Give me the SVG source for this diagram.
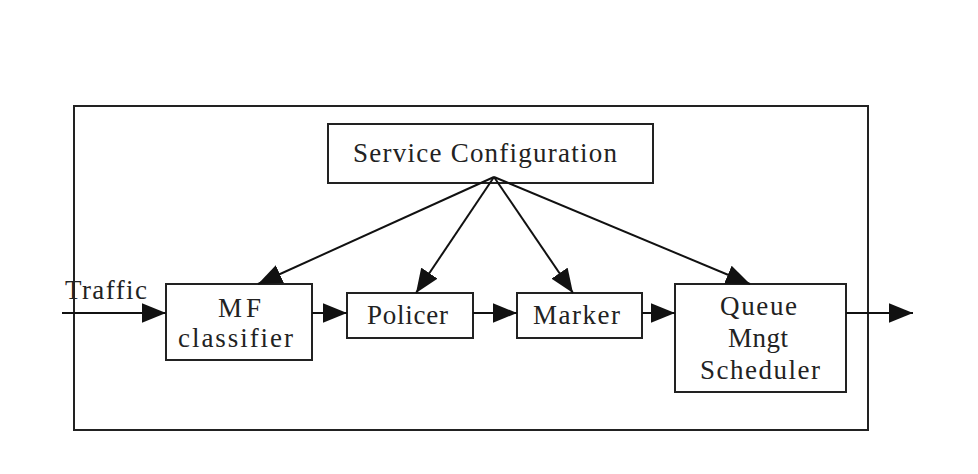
<svg xmlns="http://www.w3.org/2000/svg" width="978" height="474" viewBox="0 0 978 474">
<defs>
<marker id="ah" markerUnits="userSpaceOnUse" markerWidth="24" markerHeight="20" viewBox="0 0 22 18" refX="22" refY="9" orient="auto">
<path d="M0,0 L22,9 L0,18 Z" fill="#111"/>
</marker>
<style>
.box{fill:#fff;stroke:#222;stroke-width:2}
.t{font-family:"Liberation Serif","Times New Roman",serif;font-size:27px;fill:#222}
.c{stroke:#111;stroke-width:2;fill:none}
</style>
</defs>
<rect width="978" height="474" fill="#fff"/>
<g id="frame"><rect x="74" y="106" width="794" height="324" fill="none" stroke="#222" stroke-width="2"/></g>
<g id="service-config"><rect class="box" x="328" y="124" width="325" height="59"/><text class="t" x="353" y="162" textLength="264" lengthAdjust="spacing">Service Configuration</text></g>
<g id="traffic-label"><text class="t" x="65" y="299" textLength="82" lengthAdjust="spacing">Traffic</text></g>
<g id="mf-classifier"><rect class="box" x="166" y="284" width="146" height="76"/><text class="t" x="218" y="317" textLength="43" lengthAdjust="spacing">MF</text><text class="t" x="178" y="347" textLength="115" lengthAdjust="spacing">classifier</text></g>
<g id="policer"><rect class="box" x="347" y="293" width="126" height="45"/><text class="t" x="367" y="324" textLength="81" lengthAdjust="spacing">Policer</text></g>
<g id="marker"><rect class="box" x="517" y="293" width="125" height="45"/><text class="t" x="533" y="324" textLength="87" lengthAdjust="spacing">Marker</text></g>
<g id="queue-scheduler"><rect class="box" x="675" y="284" width="171" height="108"/><text class="t" x="720" y="315" textLength="77" lengthAdjust="spacing">Queue</text><text class="t" x="728" y="347" textLength="60" lengthAdjust="spacing">Mngt</text><text class="t" x="700" y="379" textLength="120" lengthAdjust="spacing">Scheduler</text></g>
<g id="connectors">
<line class="c" x1="62" y1="313" x2="166" y2="313" marker-end="url(#ah)"/>
<line class="c" x1="312" y1="313" x2="347" y2="313" marker-end="url(#ah)"/>
<line class="c" x1="473" y1="313" x2="517" y2="313" marker-end="url(#ah)"/>
<line class="c" x1="642" y1="313" x2="675" y2="313" marker-end="url(#ah)"/>
<line class="c" x1="846" y1="313" x2="913" y2="313" marker-end="url(#ah)"/>
<line class="c" x1="494" y1="177" x2="258" y2="284" marker-end="url(#ah)"/>
<line class="c" x1="494" y1="177" x2="416" y2="293" marker-end="url(#ah)"/>
<line class="c" x1="494" y1="177" x2="573" y2="293" marker-end="url(#ah)"/>
<line class="c" x1="494" y1="177" x2="750" y2="284" marker-end="url(#ah)"/>
</g>
</svg>
